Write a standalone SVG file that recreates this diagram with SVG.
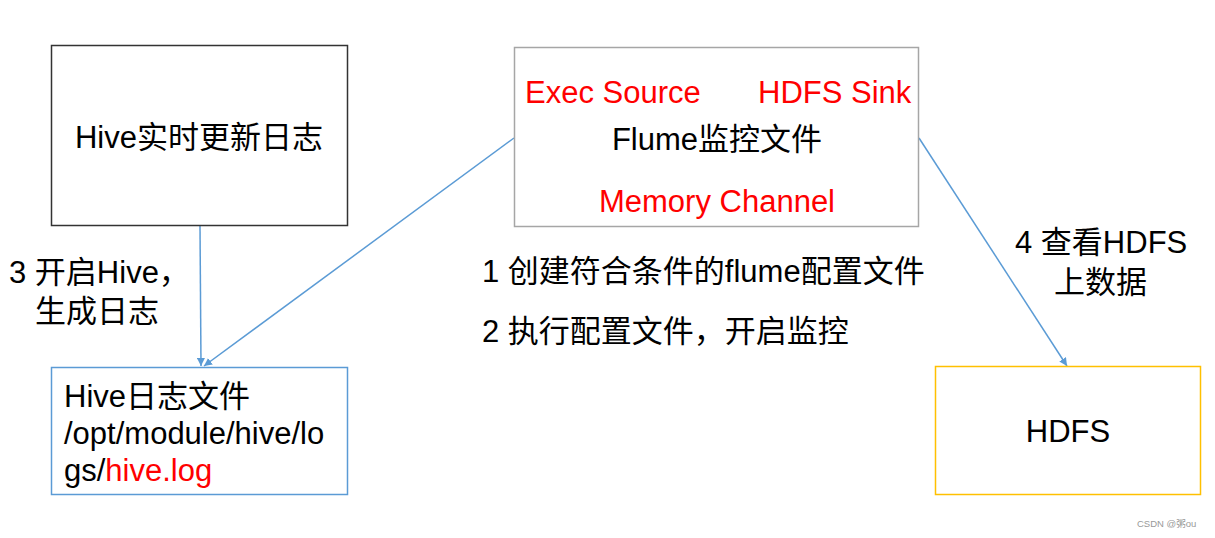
<svg xmlns="http://www.w3.org/2000/svg" width="1215" height="538" viewBox="0 0 1215 538">
<style>
text{font-family:"Liberation Sans","Noto Sans CJK SC",sans-serif;font-size:31px;fill:#000}
.red{fill:#ff0000}
.c{text-anchor:middle}
.edge{stroke:#5b9bd5;stroke-width:1.5;fill:none}
</style>
<defs>
<marker id="ah" viewBox="0 0 10 10" refX="10" refY="5" markerWidth="8" markerHeight="8" markerUnits="userSpaceOnUse" orient="auto">
<path d="M0,0 L10,5 L0,10 z" fill="#5b9bd5"/>
</marker>
</defs>
<rect width="1215" height="538" fill="#fff"/>
<g id="connectors">
<line class="edge" x1="200" y1="226" x2="201" y2="366" marker-end="url(#ah)"/>
<line class="edge" x1="514" y1="138" x2="204" y2="366" marker-end="url(#ah)"/>
<line class="edge" x1="919" y1="138" x2="1067" y2="366" marker-end="url(#ah)"/>
</g>
<g id="hive">
<rect x="51.5" y="45.5" width="296" height="180" fill="#fff" stroke="#333" stroke-width="1.5"/>
<text class="c" x="199" y="148">Hive实时更新日志</text>
</g>
<g id="flume">
<rect x="514.5" y="47.5" width="404" height="179" fill="#fff" stroke="#a6a6a6" stroke-width="1.5"/>
<text class="red" x="525" y="103">Exec Source</text>
<text class="red" x="758" y="103">HDFS Sink</text>
<text class="c" x="717" y="150">Flume监控文件</text>
<text class="red c" x="717" y="212">Memory Channel</text>
</g>
<g id="hivelog">
<rect x="51.5" y="367.5" width="296" height="127" fill="#fff" stroke="#5b9bd5" stroke-width="1.5"/>
<text x="64" y="407">Hive日志文件</text>
<text x="64" y="444">/opt/module/hive/lo</text>
<text x="64" y="481">gs/<tspan class="red">hive.log</tspan></text>
</g>
<g id="hdfs">
<rect x="935.5" y="366.5" width="265" height="128" fill="#fff" stroke="#ffc000" stroke-width="1.5"/>
<text class="c" x="1068" y="442">HDFS</text>
</g>
<g id="labels">
<text x="9" y="283">3 开启Hive，</text>
<text x="35" y="322">生成日志</text>
<text x="482" y="282">1 创建符合条件的flume配置文件</text>
<text x="482" y="342">2 执行配置文件，开启监控</text>
<text x="1015" y="253">4 查看HDFS</text>
<text x="1054" y="293">上数据</text>
<text x="1137" y="527" style="font-size:9.5px;fill:#999">CSDN @粥ou</text>
</g>
</svg>
